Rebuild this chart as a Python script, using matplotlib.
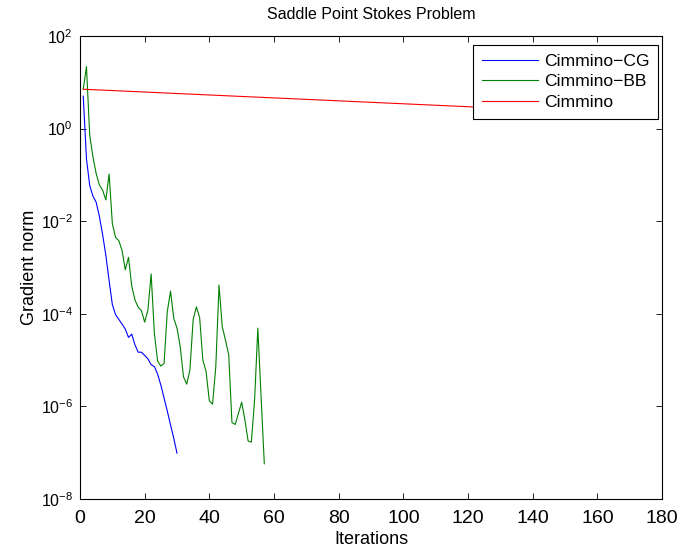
import matplotlib
matplotlib.use("Agg")
import matplotlib.pyplot as plt
import numpy as np
from matplotlib.ticker import NullLocator, FixedLocator

plt.rcParams['font.family'] = ['Liberation Sans', 'DejaVu Sans']
plt.rcParams['mathtext.fontset'] = 'custom'
plt.rcParams['mathtext.rm'] = 'Liberation Sans'
plt.rcParams['mathtext.it'] = 'Liberation Sans'
plt.rcParams['mathtext.default'] = 'regular'

# Cimmino-CG (log10 of gradient norm), iterations 1..30
cg_iter = list(range(1, 31))
cg_log = [0.70, -0.65, -1.23, -1.46, -1.59, -1.90, -2.29, -2.74, -3.28, -3.80,
          -4.02, -4.12, -4.22, -4.33, -4.51, -4.44, -4.67, -4.83, -4.83, -4.90,
          -4.97, -5.10, -5.14, -5.30, -5.54, -5.82, -6.10, -6.40, -6.69, -7.01]

# Cimmino-BB, iterations 1..57
bb_iter = list(range(1, 58))
bb_log = [0.85, 1.34, -0.14, -0.61, -0.97, -1.22, -1.33, -1.54, -0.98, -2.05,
          -2.35, -2.42, -2.63, -3.05, -2.78, -3.40, -3.70, -3.86, -3.93, -4.18,
          -3.92, -3.14, -4.42, -5.02, -5.13, -5.07, -3.95, -3.51, -4.10, -4.31,
          -4.71, -5.36, -5.52, -5.21, -4.12, -3.85, -4.08, -5.00, -5.25, -5.88,
          -5.95, -5.14, -3.38, -4.28, -4.57, -4.89, -6.35, -6.39, -6.15, -5.91,
          -6.29, -6.75, -6.77, -5.86, -4.31, -5.78, -7.24]

# Cimmino (read at a few iterations; straight on log axis, tail hidden by legend)
ci_iter = [1, 20, 40, 60, 80, 100, 120, 140, 150]
ci_log = [0.85, 0.79, 0.726, 0.663, 0.60, 0.536, 0.473, 0.41, 0.38]

x_ticks = [0, 20, 40, 60, 80, 100, 120, 140, 160, 180]
y_ticks = [1e-8, 1e-6, 1e-4, 1e-2, 1e0, 1e2]

fig = plt.figure(figsize=(6.85, 5.51), dpi=100)
ax = fig.add_axes([80/685, 1-499/551, 582/685, 463/551])

ax.semilogy(cg_iter, 10**np.array(cg_log), color='#0000ff', lw=0.8, label='Cimmino\u2212CG')
ax.semilogy(bb_iter, 10**np.array(bb_log), color='#008000', lw=0.8, label='Cimmino\u2212BB')
ax.semilogy(ci_iter, 10**np.array(ci_log), color='#ff0000', lw=0.8, label='Cimmino')

ax.set_xlim(0, 180)
ax.set_ylim(1e-8, 1e2)
ax.xaxis.set_major_locator(FixedLocator(x_ticks))
ax.yaxis.set_major_locator(FixedLocator(y_ticks))
ax.yaxis.set_minor_locator(NullLocator())
ax.tick_params(direction='in', which='both', top=True, right=True, length=4,
               width=0.6)
ax.tick_params(axis='x', labelsize=14, pad=8)
ax.tick_params(axis='y', labelsize=11.5, pad=5)
for lab in ax.get_xticklabels():
    lab.set_family(['Liberation Sans Narrow', 'Liberation Sans'])
for s in ax.spines.values():
    s.set_linewidth(0.8)

ax.set_title('Saddle Point Stokes Problem', fontsize=11.5, pad=12)
ax.set_xlabel('Iterations', fontsize=13, labelpad=3)
ax.set_ylabel('Gradient norm', fontsize=13, labelpad=2)

leg = ax.legend(loc='upper right', bbox_to_anchor=(0.9931, 0.9806),
                fontsize=12.6, fancybox=False, framealpha=1,
                edgecolor='black', borderpad=0.5, handlelength=3.2,
                labelspacing=0.3, handletextpad=0.34, borderaxespad=0.0)
leg.get_frame().set_linewidth(0.8)

fig.savefig('out.png', dpi=100)
